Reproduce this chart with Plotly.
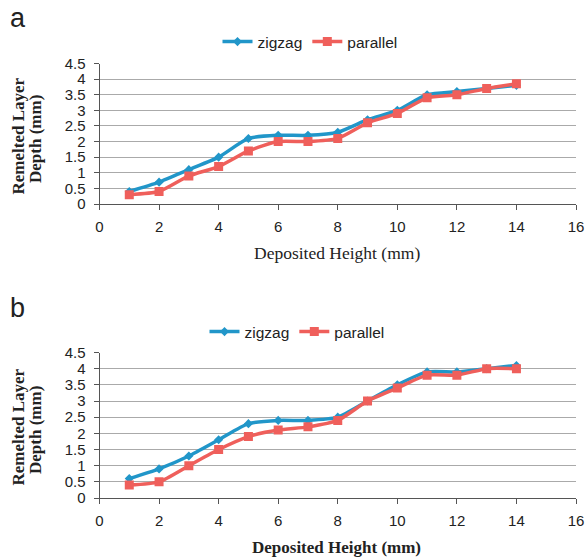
import plotly.graph_objects as go

heights = [1, 2, 3, 4, 5, 6, 7, 8, 9, 10, 11, 12, 13, 14]
a_zigzag = [0.4, 0.7, 1.1, 1.5, 2.1, 2.2, 2.2, 2.3, 2.7, 3.0, 3.5, 3.6, 3.7, 3.8]
a_parallel = [0.3, 0.4, 0.9, 1.2, 1.7, 2.0, 2.0, 2.1, 2.6, 2.9, 3.4, 3.5, 3.7, 3.85]
b_zigzag = [0.6, 0.9, 1.3, 1.8, 2.3, 2.4, 2.4, 2.5, 3.0, 3.5, 3.9, 3.9, 4.0, 4.1]
b_parallel = [0.4, 0.5, 1.0, 1.5, 1.9, 2.1, 2.2, 2.4, 3.0, 3.4, 3.8, 3.8, 4.0, 4.0]
x_ticks = [0, 2, 4, 6, 8, 10, 12, 14, 16]
y_ticks = [0, 0.5, 1, 1.5, 2, 2.5, 3, 3.5, 4, 4.5]
y_ticktext = ["0", "0.5", "1", "1.5", "2", "2.5", "3", "3.5", "4", "4.5"]

BLUE = "#2196c9"
RED = "#ef5f5b"
W, H = 585, 557
OFF = 0  # body margin removed by post_script

fig = go.Figure()

def add_panel(zig, par, xa, ya, legend):
    fig.add_trace(go.Scatter(x=heights, y=zig, name="zigzag", mode="lines+markers",
                             line=dict(color=BLUE, width=3.5, shape="spline", smoothing=0.6),
                             marker=dict(symbol="diamond", size=7, color=BLUE),
                             xaxis=xa, yaxis=ya, legend=legend))
    fig.add_trace(go.Scatter(x=heights, y=par, name="parallel", mode="lines+markers",
                             line=dict(color=RED, width=3.5, shape="spline", smoothing=0.6),
                             marker=dict(symbol="square", size=9, color=RED),
                             xaxis=xa, yaxis=ya, legend=legend))

add_panel(a_zigzag, a_parallel, "x", "y", "legend")
add_panel(b_zigzag, b_parallel, "x2", "y2", "legend2")

def py(pix):
    return 1 - (pix - OFF) / H

def px(pix):
    return (pix - OFF) / W

xdom = [px(99.5), px(576)]
tickfont = dict(family="Liberation Sans, Arial", size=15, color="#222")
xaxis_common = dict(range=[0, 16], tickvals=x_ticks, showgrid=False, showline=True,
                    linecolor="#555", linewidth=1, ticks="outside", ticklen=5,
                    tickcolor="#555", tickfont=tickfont, zeroline=False, domain=xdom,
                    automargin=False, ticklabelstandoff=4)
yaxis_common = dict(range=[0, 4.5], tickvals=y_ticks, ticktext=y_ticktext, showgrid=True,
                    gridcolor="#aaaaaa", gridwidth=1, showline=True, linecolor="#555",
                    linewidth=1, ticks="outside", ticklen=5, tickcolor="#555",
                    tickfont=tickfont, zeroline=False, automargin=False,
                    ticklabelstandoff=5)

legfont = dict(family="Liberation Sans, Arial", size=15.5, color="#222")
serif = "Liberation Serif, Times New Roman"

def ann(text, x, y, size, family, angle=0, xanchor="center"):
    return dict(text=text, x=px(x), y=py(y), xref="paper", yref="paper", showarrow=False,
                textangle=angle, xanchor=xanchor, yanchor="middle",
                font=dict(family=family, size=size, color="#222"))

fig.update_layout(
    template="none",
    width=W, height=H,
    margin=dict(l=0, r=0, t=0, b=0, autoexpand=False),
    paper_bgcolor="white", plot_bgcolor="white",
    xaxis=dict(**xaxis_common, anchor="y"),
    yaxis=dict(**yaxis_common, domain=[py(204), py(63.5)], anchor="x"),
    xaxis2=dict(**xaxis_common, anchor="y2"),
    yaxis2=dict(**yaxis_common, domain=[py(498), py(352.5)], anchor="x2"),
    legend=dict(orientation="h", x=px(310), y=py(42), xanchor="center", yanchor="middle",
                font=legfont, itemwidth=30, tracegroupgap=0, bgcolor="rgba(0,0,0,0)"),
    legend2=dict(orientation="h", x=px(297), y=py(332), xanchor="center", yanchor="middle",
                 font=legfont, itemwidth=30, tracegroupgap=0, bgcolor="rgba(0,0,0,0)"),
    annotations=[
        ann("a", 17.5, 18, 27, "Liberation Sans, Arial"),
        ann("b", 17, 308, 27, "Liberation Sans, Arial"),
        ann("<b>Remelted Layer</b>", 18, 136.5, 17, serif, -90),
        ann("<b>Depth (mm)</b>", 35.5, 139.5, 17, serif, -90),
        ann("<b>Remelted Layer</b>", 18, 427.5, 17, serif, -90),
        ann("<b>Depth (mm)</b>", 35.5, 430.5, 17, serif, -90),
        ann("Deposited Height (mm)", 337.5, 253, 17.5, serif),
        ann("<b>Deposited Height (mm)</b>", 336.5, 547, 17, serif),
    ],
)

fig.write_html(
    "out.html",
    config={"displayModeBar": False},
    post_script="document.body.style.margin='0';document.body.style.overflow='hidden';",
)
